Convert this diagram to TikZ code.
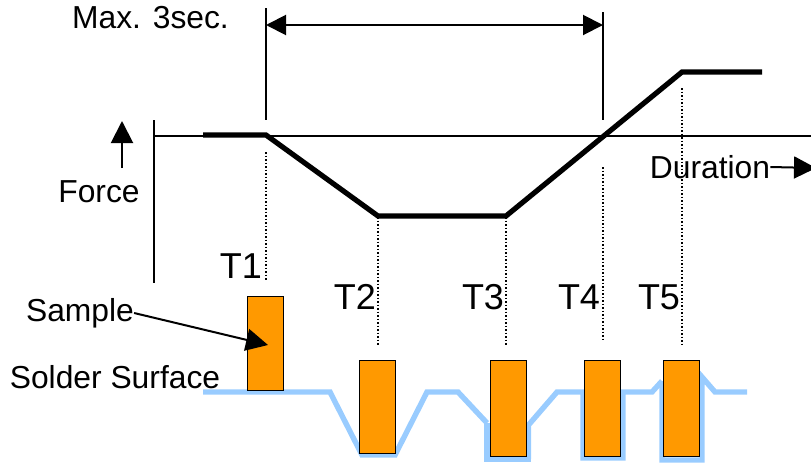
\documentclass[tikz,border=0pt]{standalone}
\usepackage{fontspec}
\setmainfont{Liberation Sans}
\usetikzlibrary{arrows.meta}
\definecolor{sampleor}{HTML}{FF9900}
\definecolor{solderbl}{HTML}{99CCFF}
\tikzset{
  lbl/.style={inner sep=0pt,font=\fontsize{31.8}{32}\selectfont,text=black},
  tlbl/.style={inner sep=0pt,font=\fontsize{36}{36}\selectfont,text=black},
  thin line/.style={line width=1.5pt,black},
  forcecurve/.style={line width=5.2pt,black,line join=miter},
  dots/.style={line width=1.3pt,black,dash pattern=on 1.5pt off 2pt},
  solder/.style={line width=5.4pt,solderbl,line join=miter},
  sample/.style={draw=black,line width=1.2pt,fill=sampleor,inner sep=0pt,minimum width=35.5pt,minimum height=0pt},
  tip/.style={-{Triangle[length=22pt,width=22pt]},line width=2pt,black},
  tiptwo/.style={{Triangle[length=20pt,width=20pt]}-{Triangle[length=20pt,width=20pt]},line width=2pt,black},
}
\begin{document}
\begin{tikzpicture}[x=1pt,y=-1pt]
\useasboundingbox (0,0) rectangle (811,464);
\clip (0,0) rectangle (811,464);
% coordinates
\coordinate (axT) at (154,120); \coordinate (axB) at (154,283);
\coordinate (hL) at (154,136); \coordinate (hR) at (811,136);
\coordinate (m1a) at (266,8); \coordinate (m1b) at (266,120);
\coordinate (m2a) at (603,12); \coordinate (m2b) at (603,120);
\coordinate (dimL) at (266,25); \coordinate (dimR) at (603,25);
\coordinate (fa) at (122,168); \coordinate (fb) at (122,121);
\coordinate (durEnd) at (816,168);
\coordinate (sampEnd) at (268,345);
\coordinate (d1a) at (266,152); \coordinate (d1b) at (266,280);
\coordinate (d2a) at (378,217); \coordinate (d2b) at (378,345);
\coordinate (d3a) at (506,217); \coordinate (d3b) at (506,345);
\coordinate (d4a) at (603,167); \coordinate (d4b) at (603,342);
\coordinate (d5a) at (682,88); \coordinate (d5b) at (682,344);
\coordinate (c0) at (203,135); \coordinate (c1) at (266,135); \coordinate (c2) at (378,216);
\coordinate (c3) at (506,216); \coordinate (c4) at (682,72); \coordinate (c5) at (762,72);
% solder surface
\draw[solder] (203,392) -- (330,392) -- (362,455) -- (395,455) -- (427,392) -- (458,392) -- (487,423);
\draw[solder] (487,423) -- (487,459) -- (531,459);
\draw[solder] (528.5,459) -- (528.5,425) -- (557,392) -- (586,392);
\draw[solder] (583,392) -- (583,458) -- (623,458) -- (623,392) -- (652,392) -- (662,381);
\draw[solder] (662,381) -- (662,460) -- (702,460) -- (702,377) -- (715,392) -- (747,392);
% samples
\node[sample,anchor=north west,minimum height=94pt] (s1) at (247,296) {};
\node[sample,anchor=north west,minimum height=93pt] (s2) at (359,360) {};
\node[sample,anchor=north west,minimum height=96pt] (s3) at (490,360) {};
\node[sample,anchor=north west,minimum height=96pt] (s4) at (584,360) {};
\node[sample,anchor=north west,minimum height=96pt] (s5) at (663,360) {};
% axes and markers
\draw[thin line] (axT) -- (axB);
\draw[thin line] (hL) -- (hR);
\draw[thin line] (m1a) -- (m1b);
\draw[thin line] (m2a) -- (m2b);
\draw[tiptwo] (dimL) -- (dimR);
\draw[tip] (fa) -- (fb);
% dotted
\draw[dots] (d1a) -- (d1b);
\draw[dots] (d2a) -- (d2b);
\draw[dots] (d3a) -- (d3b);
\draw[dots] (d4a) -- (d4b);
\draw[dots] (d5a) -- (d5b);
% force curve
\draw[forcecurve] (c0) -- (c1) -- (c2) -- (c3) -- (c4) -- (c5);
% labels
\node[lbl] (max) at (150.5,18) {Max. 3sec.};
\node[lbl] (force) at (99,192) {Force};
\node[lbl] (dur) at (710,167) {Duration};
\node[tlbl] (t1) at (241,266) {T1};
\node[tlbl] (t2) at (355,297) {T2};
\node[tlbl] (t3) at (483,297) {T3};
\node[tlbl] (t4) at (579,297) {T4};
\node[tlbl] (t5) at (659,297) {T5};
\node[lbl] (samp) at (80,313) {Sample};
\node[lbl] (surf) at (115,377) {Solder Surface};
\draw[tip] (dur.east) -- (durEnd);
\draw[tip] (samp.east) -- (sampEnd);
\end{tikzpicture}
\end{document}
